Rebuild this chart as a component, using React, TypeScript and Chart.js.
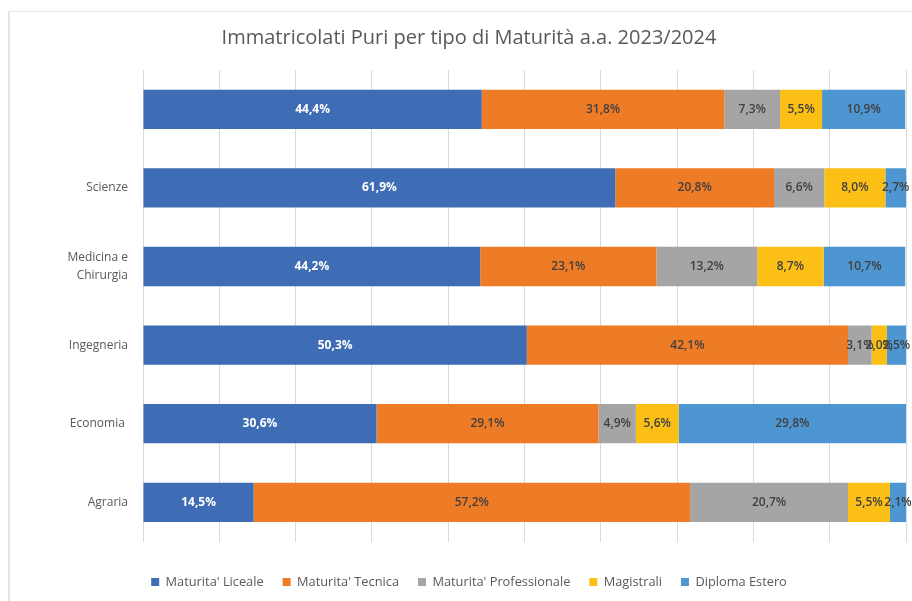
import React, { useEffect, useRef } from "react";
import { Chart, registerables } from "chart.js";

Chart.register(...registerables);

const categories: (string | string[])[] = ["", "Scienze", ["Medicina e", "Chirurgia"], "Ingegneria", "Economia ", "Agraria"];
const seriesNames = ["Maturita' Liceale", "Maturita' Tecnica", "Maturita' Professionale", "Magistrali", "Diploma Estero"];
const liceale = [44.4, 61.9, 44.2, 50.3, 30.6, 14.5];
const tecnica = [31.8, 20.8, 23.1, 42.1, 29.1, 57.2];
const professionale = [7.3, 6.6, 13.2, 3.1, 4.9, 20.7];
const magistrali = [5.5, 8.0, 8.7, 2.0, 5.6, 5.5];
const estero = [10.9, 2.7, 10.7, 2.5, 29.8, 2.1];
const colors = ["#3e6db5", "#ee7b25", "#a5a5a5", "#fcbf16", "#4e96d1"];
const labelColors = ["#ffffff", "#404040", "#404040", "#404040", "#404040"];
const titleText = "Immatricolati Puri per tipo di Maturità a.a. 2023/2024";

const FONT = "'Open Sans', 'DejaVu Sans', sans-serif";

const valueLabels = {
  id: "valueLabels",
  afterDatasetsDraw(chart: any) {
    const ctx = chart.ctx;
    ctx.save();
    ctx.textAlign = "center";
    ctx.textBaseline = "middle";
    chart.data.datasets.forEach((ds: any, di: number) => {
      const meta = chart.getDatasetMeta(di);
      ctx.font = di === 0 ? `bold 12px ${FONT}` : `600 12px ${FONT}`;
      meta.data.forEach((el: any, i: number) => {
        const v = ds.data[i];
        const x = (el.x + el.base) / 2;
        ctx.fillStyle = labelColors[di];
        ctx.fillText(v.toFixed(1).replace(".", ",") + "%", x, el.y);
      });
    });
    ctx.restore();
  },
};

export default function App() {
  const ref = useRef<HTMLCanvasElement>(null);
  useEffect(() => {
    if (!ref.current) return;
    const all = [liceale, tecnica, professionale, magistrali, estero];
    const chart = new Chart(ref.current, {
      type: "bar",
      data: {
        labels: categories,
        datasets: all.map((d, i) => ({
          label: seriesNames[i],
          data: d,
          backgroundColor: colors[i],
          borderWidth: 0,
          categoryPercentage: 1,
          barPercentage: 0.5,
        })),
      },
      options: {
        indexAxis: "y",
        animation: false,
        responsive: true,
        maintainAspectRatio: false,
        layout: { padding: { left: 0, right: 0, top: 0, bottom: 2.6 } },
        scales: {
          x: {
            stacked: true,
            min: 0,
            max: 100,
            ticks: { display: false, stepSize: 10 },
            grid: { color: "#d9d9d9", lineWidth: 1, drawTicks: false },
            border: { display: false },
            afterFit: (s: any) => { s.height = 15; },
          },
          y: {
            stacked: true,
            grid: { display: false, drawTicks: false },
            border: { display: false },
            ticks: { color: "#595959", font: { family: FONT, size: 12, lineHeight: 1.5 }, padding: 15 },
            afterFit: (s: any) => { s.width = 135; },
          },
          yRight: {
            type: "linear",
            position: "right",
            display: true,
            grid: { display: false, drawTicks: false },
            border: { display: false },
            ticks: { display: false },
            afterFit: (s: any) => { s.width = 24; },
          },
        },
        plugins: {
          title: {
            display: true,
            text: titleText,
            color: "#595959",
            font: { family: FONT, size: 20, weight: "normal" },
            padding: { top: 26, bottom: 20 },
          },
          legend: {
            position: "bottom",
            labels: {
              boxWidth: 8,
              boxHeight: 8,
              padding: 19,
              color: "#595959",
              font: { family: FONT, size: 12.8 },
            },
          },
          tooltip: { enabled: false },
        },
      },
      plugins: [valueLabels],
    });
    return () => chart.destroy();
  }, []);
  return (
    <div style={{ position: "absolute", left: 0, top: 0, width: 912, height: 601, overflow: "hidden", background: "#fff" }}>
      <div style={{ position: "absolute", left: 8, top: 11, width: 1000, height: 700, borderLeft: "2px solid #e4e4e4", borderTop: "1px solid #e4e4e4" }} />
      <div style={{ position: "absolute", left: 8, top: 0, width: 922, height: 601 }}>
        <canvas ref={ref} />
      </div>
    </div>
  );
}
